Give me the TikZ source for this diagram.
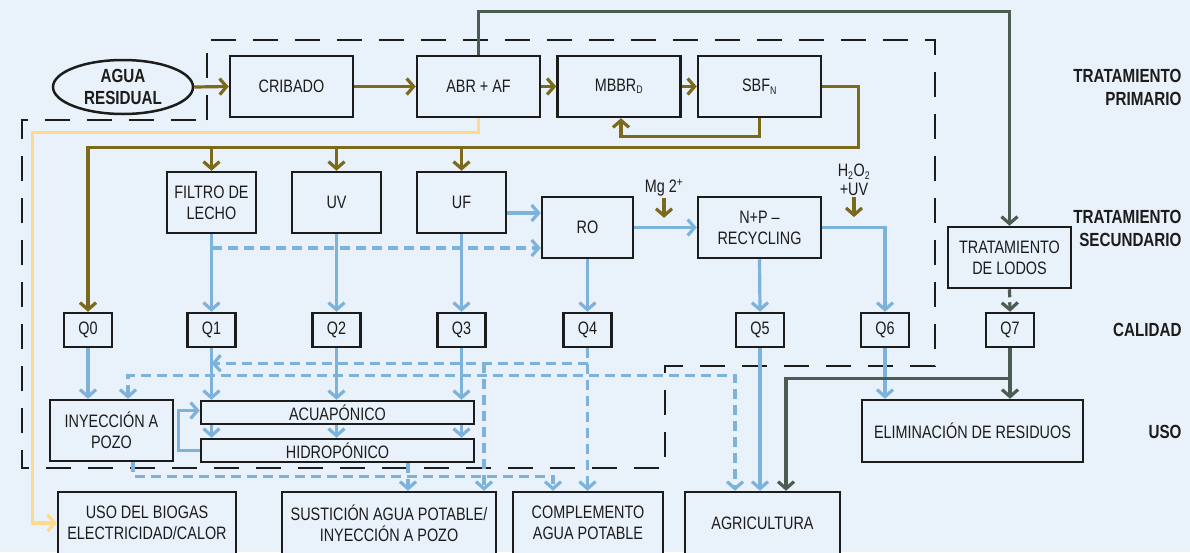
\documentclass[tikz,border=0pt]{standalone}
\usepackage{fontspec}
\setmainfont{Liberation Sans}[FakeStretch=0.8]
\usepackage{tikz}
\usetikzlibrary{arrows.meta,positioning,calc,shapes.geometric}
\definecolor{flbg}{HTML}{E9F1FA}
\definecolor{flink}{HTML}{1C1C1C}
\definecolor{flolive}{HTML}{7B6A1C}
\definecolor{flblue}{HTML}{7DB3DA}
\definecolor{flslate}{HTML}{4B5D52}
\definecolor{flsun}{HTML}{FFD98C}
\newcommand{\flsub}[1]{\textsubscript{\fontsize{11}{11}\selectfont #1}}

\begin{document}
\begin{tikzpicture}[
  x=1pt,y=-1pt,
  font=\fontsize{18}{21}\selectfont,
  >={Straight Barb[length=7pt,width=16pt]},
  box/.style={draw=flink,line width=2.5pt,fill=flbg,align=center,
              inner sep=0pt,text=flink},
  stage/.style={box,minimum width=123pt,minimum height=61pt},
  qbox/.style={box,minimum width=48pt,minimum height=34pt},
  lab/.style={font=\fontsize{19}{23}\selectfont\bfseries,align=right,
              anchor=east,text=flink},
  oarr/.style={->,line width=3.2pt,draw=flolive},
  barr/.style={->,line width=3.2pt,draw=flblue},
  dbarr/.style={->,line width=3.2pt,draw=flblue,dash pattern=on 10pt off 6pt},
  darr/.style={->,line width=3.2pt,draw=flslate},
  yarr/.style={->,line width=3.2pt,draw=flsun},
  bound/.style={draw=flink,line width=2.5pt,dash pattern=on 25pt off 17pt},
]
\clip (0,0) rectangle (1190,552);
\fill[flbg] (0,0) rectangle (1190,552);
% limite de tratamiento (discontinuo)
\draw[bound] (207,120) -- (207,40) -- (935,40) -- (935,366) -- (665,366)
  -- (665,468) -- (22,468) -- (22,120) -- cycle;
% tratamiento primario
\node[box,ellipse,minimum width=140pt,minimum height=54pt,
      font=\fontsize{19}{22}\selectfont\bfseries] (agua) at (123,87)
  {AGUA\\RESIDUAL};
\node[stage] (crib) at (291.5,86.5) {CRIBADO};
\node[stage] (abr) at (478.5,86.5) {ABR + AF};
\node[stage] (mbbr) at (619,86.5) {MBBR\flsub{D}};
\node[stage] (sbf) at (759.5,86.5) {SBF\flsub{N}};
% tratamiento secundario
\node[stage,minimum width=89pt] (filtro) at (211.5,202.5) {FILTRO DE\\LECHO};
\node[stage,minimum width=89pt] (uv) at (336.5,202.5) {UV};
\node[stage,minimum width=89pt] (uf) at (461.5,202.5) {UF};
\node[stage,minimum width=91pt] (ro) at (587.5,227.5) {RO};
\node[stage] (np) at (759.5,227.5) {N+P --\\RECYCLING};
\node[stage] (lodos) at (1009.5,257.5) {TRATAMIENTO\\DE LODOS};
\node[text=flink,inner sep=1pt] (mg) at (664,188) {Mg 2\textsuperscript{+}};
\node[text=flink,align=center,inner sep=1pt,font=\fontsize{18}{19}\selectfont]
  (hdos) at (854,180) {H\flsub{2}O\flsub{2}\\+UV};
% calidad
\node[qbox] (q0) at (88,330) {Q0};
\node[qbox] (q1) at (211.5,330) {Q1};
\node[qbox] (q2) at (336.5,330) {Q2};
\node[qbox] (q3) at (461.5,330) {Q3};
\node[qbox] (q4) at (587.5,330) {Q4};
\node[qbox] (q5) at (760,330) {Q5};
\node[qbox] (q6) at (885,330) {Q6};
\node[qbox] (q7) at (1010,330) {Q7};
% uso
\node[stage] (iny) at (111.5,430.5) {INYECCI\'ON A\\POZO};
\node[box,minimum width=273pt,minimum height=23pt] (acua) at (337.5,412.5)
  {ACUAP\'ONICO};
\node[box,minimum width=273pt,minimum height=23pt] (hidro) at (337.5,450.5)
  {HIDROP\'ONICO};
\node[stage,minimum width=221pt,minimum height=62pt] (elim) at (972.5,431)
  {ELIMINACI\'ON DE RESIDUOS};
\node[stage,minimum width=178pt,minimum height=62pt] (biogas) at (147,523)
  {USO DEL BIOGAS\\ELECTRICIDAD/CALOR};
\node[stage,minimum width=214pt,minimum height=62pt] (sust) at (389,523)
  {SUSTICI\'ON AGUA POTABLE/\\INYECCI\'ON A POZO};
\node[stage,minimum width=150pt,minimum height=62pt] (compl) at (588,523)
  {COMPLEMENTO\\AGUA POTABLE};
\node[stage,minimum width=155pt,minimum height=62pt] (agri) at (762.5,523)
  {AGRICULTURA};
% etiquetas de etapa
\node[lab] (lprim) at (1185,87) {TRATAMIENTO\\PRIMARIO};
\node[lab] (lsec) at (1185,228) {TRATAMIENTO\\SECUNDARIO};
\node[lab] (lcal) at (1185,330) {CALIDAD};
\node[lab] (luso) at (1185,432) {USO};
% flujo primario
\draw[oarr] (agua.east) -- (crib.west);
\draw[oarr] (crib) -- (abr);
\draw[oarr] (abr) -- (mbbr);
\draw[oarr] (mbbr) -- (sbf);
\draw[oarr] (sbf.south) -- ++(0,18) -| ([xshift=2pt]mbbr.south);
\draw[oarr] (sbf.east) -| ++(36,61) -| (q0.north);
\foreach \n in {filtro,uv,uf}
  \draw[oarr] (\n.north) ++(0,-24) -- (\n.north);
\draw[oarr] (mg.south) -- ++(0,20);
\draw[oarr] (hdos.south) -- ++(0,20);
\draw[yarr] (abr.south) -- ++(0,14) -| ([xshift=-24pt]biogas.west)
  -- (biogas.west);
\draw[darr] (abr.north) -- ++(0,-43) -| (lodos.north);
% flujo secundario
\coordinate (roin) at ($(ro.west)+(0,-14.5)$);
\coordinate (rodash) at ($(ro.west)+(0,20.5)$);
\draw[barr] (uf.east |- roin) -- (roin);
\draw[dbarr] (filtro.south |- rodash) -- (rodash);
\draw[barr] (ro) -- (np);
\draw[barr] (np.east) -| (q6.north);
\draw[barr] (ro) -- (q4);
\foreach \a/\b in {filtro/q1,uv/q2,uf/q3,np/q5}
  \draw[barr] (\a.south) -- (\b.north);
\draw[darr,dash pattern=on 8pt off 5pt] (lodos.south) -- (q7.north);
% hacia el uso
\draw[barr] (q0.south) -- (q0.south |- iny.north);
\foreach \q in {q1,q2,q3}{
  \draw[barr] (\q.south) -- (\q.south |- acua.north);
  \draw[barr] (\q.south |- acua.south) -- (\q.south |- hidro.north);
}
\draw[barr] (hidro.west) -- ++(-21,0) |- ([yshift=2pt]acua.west);
\draw[barr] (q5.south) -- (q5.south |- agri.north);
\draw[barr] (q6.south) -- (q6.south |- elim.north);
\draw[darr] (q7.south) -- ++(0,30) -| ([xshift=23.5pt]agri.north);
\draw[darr] (q7.south) -- (q7.south |- elim.north);
% reuso (discontinuo)
\coordinate (dj) at ($(q4.south)+(0,15)$);
\coordinate (s1) at ([xshift=19pt]sust.north);
\coordinate (s2) at ([xshift=95pt]sust.north);
\coordinate (c1) at ([xshift=-35pt]compl.north);
\coordinate (a1) at ([xshift=-27.5pt]agri.north);
\draw[dbarr] (q4.south) -- (q4.south |- compl.north);
\draw[dbarr] (dj) -- (dj -| q1.south);
\draw[dbarr] (s2 |- dj) -- (s2);
\draw[dbarr,<->] ([xshift=16.5pt]iny.north) -- ++(0,-23) -| (a1);
\draw[dbarr] ([xshift=21.5pt]iny.south) -- ++(0,14) -| (c1);
\draw[dbarr] (s1 |- hidro.south) -- (s1);
\end{tikzpicture}
\end{document}
